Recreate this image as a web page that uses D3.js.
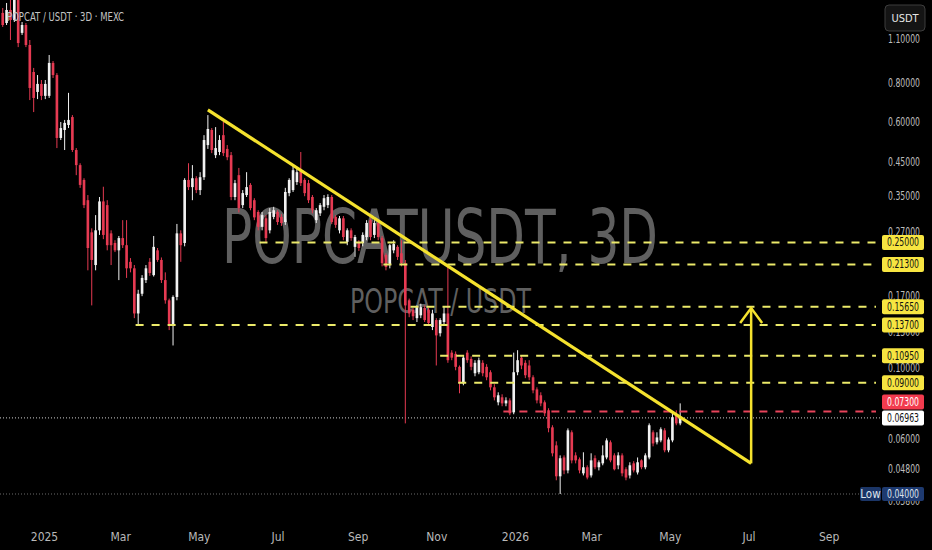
<!DOCTYPE html>
<html>
<head>
<meta charset="utf-8">
<script src="https://cdn.jsdelivr.net/npm/d3@7"></script>
<style>
  body { margin: 0; background: #000; overflow: hidden; }
  svg { display: block; }
</style>
</head>
<body>
<svg id="chart"></svg>
<script>
// POPCAT / USDT, 3 day candles (MEXC), log price scale

// first candle, then one candle every 3 days
const startDate = "2024-11-30";

const opens = [
  1.330, 1.236, 1.359, 1.263, 1.461, 1.150, 1.218, 1.053, 0.865, 0.748,
  0.793, 0.727, 0.727, 0.924, 0.846, 0.535, 0.567, 0.588, 0.623, 0.490,
  0.439, 0.394, 0.340, 0.269, 0.212, 0.273, 0.337, 0.328, 0.267, 0.249,
  0.236, 0.258, 0.245, 0.217, 0.207, 0.149, 0.172, 0.190, 0.217, 0.197,
  0.236, 0.220, 0.190, 0.164, 0.137, 0.168, 0.267, 0.249, 0.394, 0.374,
  0.399, 0.366, 0.402, 0.508, 0.567, 0.472, 0.483, 0.546, 0.494, 0.472,
  0.348, 0.408, 0.328, 0.353, 0.380, 0.340, 0.312, 0.280, 0.298, 0.273,
  0.301, 0.312, 0.301, 0.290, 0.358, 0.366, 0.388, 0.423, 0.394, 0.385,
  0.348, 0.294, 0.309, 0.324, 0.328, 0.348, 0.301, 0.273, 0.298, 0.251,
  0.273, 0.242, 0.251, 0.249, 0.260, 0.294, 0.264, 0.288, 0.258, 0.228,
  0.212, 0.236, 0.242, 0.231, 0.215, 0.164, 0.153, 0.144, 0.147, 0.155,
  0.153, 0.135, 0.142, 0.129, 0.140, 0.149, 0.112, 0.111, 0.101, 0.0896,
  0.112, 0.107, 0.0964, 0.0971, 0.104, 0.101, 0.0971, 0.0870, 0.0780, 0.0809,
  0.0774, 0.0791, 0.0725, 0.0971, 0.108, 0.104, 0.102, 0.0936, 0.0857, 0.0821,
  0.0780, 0.0736, 0.0650, 0.0570, 0.0455, 0.0522, 0.0475, 0.0627, 0.0530, 0.0515,
  0.0465, 0.0486, 0.0458, 0.0519, 0.0486, 0.0500, 0.0522, 0.0583, 0.0530, 0.0493,
  0.0530, 0.0479, 0.0458, 0.0500, 0.0468, 0.0511, 0.0486, 0.0522, 0.0627, 0.0583,
  0.0591, 0.0636, 0.0550, 0.0591, 0.0710, 0.0669
];

const highs = [
  1.379, 1.430, 1.516, 1.572, 1.516, 1.245, 1.236, 1.092, 0.891, 0.846,
  0.816, 0.816, 0.979, 0.937, 0.858, 0.601, 0.610, 0.743, 0.632, 0.497,
  0.445, 0.399, 0.353, 0.277, 0.305, 0.348, 0.375, 0.340, 0.273, 0.254,
  0.262, 0.294, 0.294, 0.223, 0.212, 0.177, 0.197, 0.212, 0.223, 0.262,
  0.240, 0.224, 0.201, 0.166, 0.170, 0.286, 0.273, 0.399, 0.445, 0.439,
  0.405, 0.417, 0.546, 0.632, 0.575, 0.579, 0.546, 0.601, 0.508, 0.483,
  0.394, 0.430, 0.366, 0.417, 0.385, 0.345, 0.316, 0.312, 0.305, 0.321,
  0.324, 0.316, 0.307, 0.372, 0.399, 0.436, 0.430, 0.483, 0.399, 0.394,
  0.353, 0.321, 0.333, 0.353, 0.355, 0.353, 0.305, 0.303, 0.303, 0.277,
  0.277, 0.264, 0.254, 0.269, 0.294, 0.298, 0.294, 0.292, 0.262, 0.231,
  0.247, 0.254, 0.245, 0.254, 0.220, 0.166, 0.155, 0.158, 0.160, 0.158,
  0.155, 0.153, 0.144, 0.144, 0.157, 0.209, 0.114, 0.113, 0.102, 0.110,
  0.114, 0.109, 0.106, 0.108, 0.106, 0.103, 0.0985, 0.0890, 0.0839, 0.0827,
  0.0809, 0.0803, 0.112, 0.114, 0.110, 0.106, 0.106, 0.0950, 0.0870, 0.0839,
  0.0791, 0.0747, 0.0660, 0.0587, 0.0530, 0.0530, 0.0645, 0.0636, 0.0542, 0.0522,
  0.0542, 0.0493, 0.0538, 0.0530, 0.0511, 0.0570, 0.0600, 0.0591, 0.0538, 0.0542,
  0.0538, 0.0486, 0.0504, 0.0508, 0.0522, 0.0515, 0.0538, 0.0669, 0.0636, 0.0627,
  0.0650, 0.0646, 0.0604, 0.0725, 0.0736, 0.0774
];

const lows = [
  1.201, 1.218, 1.092, 1.245, 1.037, 1.133, 1.037, 0.705, 0.646, 0.710,
  0.705, 0.710, 0.716, 0.828, 0.497, 0.527, 0.490, 0.575, 0.483, 0.408,
  0.372, 0.321, 0.204, 0.158, 0.204, 0.264, 0.256, 0.236, 0.212, 0.233,
  0.190, 0.240, 0.193, 0.201, 0.144, 0.137, 0.169, 0.186, 0.196, 0.195,
  0.217, 0.186, 0.160, 0.132, 0.118, 0.164, 0.217, 0.243, 0.366, 0.340,
  0.358, 0.353, 0.394, 0.494, 0.479, 0.462, 0.472, 0.469, 0.455, 0.340,
  0.340, 0.311, 0.321, 0.348, 0.316, 0.294, 0.273, 0.273, 0.251, 0.267,
  0.296, 0.284, 0.282, 0.284, 0.350, 0.361, 0.380, 0.377, 0.350, 0.333,
  0.309, 0.288, 0.303, 0.316, 0.321, 0.286, 0.278, 0.267, 0.254, 0.245,
  0.253, 0.225, 0.235, 0.243, 0.254, 0.254, 0.258, 0.254, 0.210, 0.204,
  0.207, 0.231, 0.220, 0.210, 0.0669, 0.145, 0.142, 0.140, 0.144, 0.140,
  0.136, 0.132, 0.102, 0.126, 0.137, 0.104, 0.106, 0.0985, 0.0833, 0.0883,
  0.104, 0.0985, 0.0943, 0.0957, 0.0943, 0.0916, 0.0851, 0.0791, 0.0763, 0.0758,
  0.0758, 0.0710, 0.0715, 0.0950, 0.0993, 0.0930, 0.0916, 0.0833, 0.0774, 0.0758,
  0.0705, 0.0627, 0.0526, 0.0442, 0.0400, 0.0462, 0.0465, 0.0500, 0.0500, 0.0465,
  0.0458, 0.0445, 0.0451, 0.0479, 0.0475, 0.0493, 0.0515, 0.0504, 0.0475, 0.0479,
  0.0455, 0.0442, 0.0448, 0.0468, 0.0461, 0.0479, 0.0479, 0.0515, 0.0566, 0.0574,
  0.0583, 0.0542, 0.0542, 0.0583, 0.0660, 0.0660
];

const closes = [
  1.218, 1.359, 1.263, 1.482, 1.068, 1.218, 1.053, 0.770, 0.716, 0.793,
  0.727, 0.793, 0.924, 0.846, 0.535, 0.575, 0.597, 0.610, 0.490, 0.439,
  0.380, 0.328, 0.240, 0.220, 0.273, 0.337, 0.264, 0.245, 0.245, 0.236,
  0.258, 0.245, 0.207, 0.207, 0.149, 0.172, 0.193, 0.207, 0.200, 0.242,
  0.220, 0.190, 0.164, 0.137, 0.168, 0.267, 0.245, 0.394, 0.374, 0.399,
  0.366, 0.402, 0.527, 0.571, 0.490, 0.497, 0.527, 0.479, 0.465, 0.348,
  0.385, 0.321, 0.358, 0.374, 0.321, 0.300, 0.280, 0.305, 0.258, 0.312,
  0.316, 0.290, 0.288, 0.361, 0.394, 0.423, 0.417, 0.385, 0.358, 0.340,
  0.316, 0.316, 0.328, 0.345, 0.348, 0.290, 0.284, 0.298, 0.260, 0.273,
  0.258, 0.260, 0.240, 0.264, 0.288, 0.260, 0.288, 0.260, 0.215, 0.209,
  0.245, 0.247, 0.225, 0.215, 0.158, 0.149, 0.146, 0.156, 0.156, 0.142,
  0.139, 0.149, 0.127, 0.142, 0.149, 0.106, 0.108, 0.101, 0.0896, 0.108,
  0.106, 0.101, 0.104, 0.106, 0.0964, 0.0936, 0.0870, 0.0809, 0.0821, 0.0774,
  0.0791, 0.0720, 0.0971, 0.106, 0.102, 0.0950, 0.0936, 0.0851, 0.0791, 0.0774,
  0.0720, 0.0646, 0.0538, 0.0455, 0.0519, 0.0475, 0.0636, 0.0511, 0.0511, 0.0475,
  0.0486, 0.0451, 0.0511, 0.0486, 0.0504, 0.0530, 0.0591, 0.0511, 0.0479, 0.0530,
  0.0465, 0.0451, 0.0493, 0.0475, 0.0504, 0.0486, 0.0530, 0.0660, 0.0578, 0.0604,
  0.0641, 0.0550, 0.0595, 0.0700, 0.0669, 0.06963
];

// price axis ticks (log scale)
const priceTicks = [1.1, 0.8, 0.6, 0.45, 0.35, 0.27, 0.21, 0.17, 0.13, 0.10, 0.078, 0.06, 0.048, 0.038];

// time axis ticks
const timeTicks = ["2025-01-01", "2025-03-01", "2025-05-01", "2025-07-01", "2025-09-01", "2025-11-01",
                   "2026-01-01", "2026-03-01", "2026-05-01", "2026-07-01", "2026-09-01"];
const timeTickLabels = ["2025", "Mar", "May", "Jul", "Sep", "Nov", "2026", "Mar", "May", "Jul", "Sep"];

// horizontal levels drawn on the chart
const levelPrices = [0.25, 0.213, 0.1565, 0.137, 0.1095, 0.09];
const levelStarts = ["2025-06-17", "2025-09-21", "2025-10-12", "2025-03-13", "2025-11-04", "2025-11-18"];
const resistancePrice = 0.073;
const resistanceStart = "2025-12-23";
const lastPrice = 0.06963;
const lowPrice = 0.04;

// descending trendline and target arrow
const trendDates = ["2025-05-08", "2026-07-03"];
const trendPrices = [0.656, 0.050];
const arrowTarget = 0.155;

const width = 932, height = 550;
const plotRight = 880, plotBottom = 518;
const parseDate = d3.utcParse("%Y-%m-%d");
const start = parseDate(startDate);

const candles = opens.map((o, i) => ({
    date: d3.utcDay.offset(start, 3 * i),
    open: o, high: highs[i], low: lows[i], close: closes[i]
}));

const svg = d3.select("#chart")
    .attr("width", width)
    .attr("height", height)
    .style("background", "#000");

// x: one year spans 2025 -> 2026
const x = d3.scaleUtc()
    .domain([parseDate("2025-01-01"), parseDate("2026-01-01")])
    .range([44, 515]);

const y = d3.scaleLog()
    .domain([1.1, 0.04])
    .range([39, 494]);

const fontFamily = "'Liberation Sans Narrow', 'DejaVu Sans Condensed', Roboto, sans-serif";
const candleStep = x(d3.utcDay.offset(start, 3)) - x(start);
const bodyW = candleStep * 0.68;

svg.append("defs").append("clipPath").attr("id", "plot")
    .append("rect").attr("x", 0).attr("y", 0).attr("width", plotRight).attr("height", plotBottom);

const plot = svg.append("g").attr("clip-path", "url(#plot)");

// watermark
plot.append("text")
    .attr("x", 222).attr("y", 263)
    .attr("textLength", 436).attr("lengthAdjust", "spacingAndGlyphs")
    .style("font-family", fontFamily)
    .style("font-size", "74px")
    .style("fill", "#5f5f5f")
    .text("POPCATUSDT, 3D");

plot.append("text")
    .attr("x", 350).attr("y", 313)
    .attr("textLength", 181).attr("lengthAdjust", "spacingAndGlyphs")
    .style("font-family", fontFamily)
    .style("font-size", "34px")
    .style("fill", "#5f5f5f")
    .text("POPCAT / USDT");

// dotted lines: last price and low
plot.append("line")
    .attr("x1", 0).attr("x2", plotRight)
    .attr("y1", y(lastPrice)).attr("y2", y(lastPrice))
    .attr("stroke", "#cfcfcf").attr("stroke-width", 1)
    .attr("stroke-dasharray", "1,2");

plot.append("line")
    .attr("x1", 0).attr("x2", 860)
    .attr("y1", y(lowPrice)).attr("y2", y(lowPrice))
    .attr("stroke", "#6a6a6a").attr("stroke-width", 1)
    .attr("stroke-dasharray", "1,2");

// candles
const candleG = plot.append("g");
const colorOf = d => d.close >= d.open ? "#f2f2f2" : "#e63a52";

candleG.selectAll(".wick")
    .data(candles)
    .join("line")
    .attr("x1", d => x(d.date)).attr("x2", d => x(d.date))
    .attr("y1", d => y(d.high)).attr("y2", d => y(d.low))
    .attr("stroke", colorOf)
    .attr("stroke-width", 1);

candleG.selectAll(".body")
    .data(candles)
    .join("rect")
    .attr("x", d => x(d.date) - bodyW / 2)
    .attr("width", bodyW)
    .attr("y", d => y(Math.max(d.open, d.close)))
    .attr("height", d => Math.max(1, Math.abs(y(d.open) - y(d.close))))
    .attr("fill", colorOf);

// dashed levels
plot.selectAll(".level")
    .data(levelPrices)
    .join("line")
    .attr("x1", (d, i) => x(parseDate(levelStarts[i])))
    .attr("x2", plotRight - 4)
    .attr("y1", d => y(d)).attr("y2", d => y(d))
    .attr("stroke", "#ecea6a")
    .attr("stroke-width", 2)
    .attr("stroke-dasharray", "8,8");

plot.append("line")
    .attr("x1", x(parseDate(resistanceStart)))
    .attr("x2", plotRight - 4)
    .attr("y1", y(resistancePrice)).attr("y2", y(resistancePrice))
    .attr("stroke", "#e8435a")
    .attr("stroke-width", 2)
    .attr("stroke-dasharray", "8,8");

// trendline
const trendPts = trendDates.map((d, i) => [x(parseDate(d)), y(trendPrices[i])]);
plot.append("path")
    .attr("d", d3.line()(trendPts))
    .attr("stroke", "#f5e22e")
    .attr("stroke-width", 3.2)
    .attr("fill", "none");

// target arrow
const ax = trendPts[1][0], ayTop = y(arrowTarget);
plot.append("line")
    .attr("x1", ax).attr("x2", ax)
    .attr("y1", trendPts[1][1]).attr("y2", ayTop)
    .attr("stroke", "#f5e22e").attr("stroke-width", 2.5);
plot.append("path")
    .attr("d", d3.line()([[ax - 11, ayTop + 15], [ax, ayTop], [ax + 11, ayTop + 15]]))
    .attr("stroke", "#f5e22e").attr("stroke-width", 2.5)
    .attr("fill", "none");

// title
svg.append("text")
    .attr("x", 7).attr("y", 21)
    .attr("textLength", 117).attr("lengthAdjust", "spacingAndGlyphs")
    .style("font-family", fontFamily)
    .style("font-size", "13px")
    .style("fill", "#c4c4c4")
    .text("POPCAT / USDT · 3D · MEXC");

// time axis
const xAxis = svg.append("g")
    .attr("transform", "translate(0,532)")
    .call(d3.axisBottom(x).tickValues(timeTicks.map(parseDate))
        .tickFormat((d, i) => timeTickLabels[i])
        .tickSize(0).tickPadding(0));
xAxis.select(".domain").remove();
xAxis.selectAll("text")
    .style("font-family", fontFamily)
    .style("font-size", "12px")
    .style("fill", "#b9b9b9");

// price axis
const yAxis = svg.append("g")
    .attr("transform", "translate(904,0)")
    .call(d3.axisRight(y).tickValues(priceTicks)
        .tickFormat(d3.format(".5f"))
        .tickSize(0).tickPadding(0));
yAxis.select(".domain").remove();
yAxis.selectAll("text")
    .attr("text-anchor", "middle")
    .attr("textLength", 32).attr("lengthAdjust", "spacingAndGlyphs")
    .style("font-family", fontFamily)
    .style("font-size", "11.5px")
    .style("fill", "#bdbdbd");

// price badges on the axis, pushed apart so they don't overlap
const badges = levelPrices.map(p => ({price: p, fill: "#f7e541", color: "#111"}));
badges.push({price: resistancePrice, fill: "#f23b4e", color: "#fff"});
badges.push({price: lastPrice, fill: "#ffffff", color: "#111"});
badges.forEach(b => b.cy = y(b.price));
badges.sort((a, b) => b.cy - a.cy);
for (let i = 1; i < badges.length; i++) {
    if (badges[i - 1].cy - badges[i].cy < 16) badges[i].cy = badges[i - 1].cy - 16;
}

const badgeG = svg.append("g").selectAll("g")
    .data(badges)
    .join("g")
    .attr("transform", d => `translate(882,${d.cy})`);
badgeG.append("rect")
    .attr("x", 0).attr("y", -7.5)
    .attr("width", 42).attr("height", 15)
    .attr("rx", 2)
    .attr("fill", d => d.fill);
badgeG.append("text")
    .attr("x", 21).attr("y", 4)
    .attr("text-anchor", "middle")
    .attr("textLength", 32).attr("lengthAdjust", "spacingAndGlyphs")
    .style("font-family", fontFamily)
    .style("font-size", "11.5px")
    .style("fill", d => d.color)
    .text(d => d3.format(".5f")(d.price));

// low badge
const lowG = svg.append("g").attr("transform", `translate(860,${y(lowPrice)})`);
lowG.append("rect")
    .attr("x", 0).attr("y", -7).attr("width", 21).attr("height", 14)
    .attr("rx", 2).attr("fill", "#1b3566");
lowG.append("rect")
    .attr("x", 22).attr("y", -7).attr("width", 42).attr("height", 14)
    .attr("rx", 2).attr("fill", "#1e3a70");
lowG.append("text")
    .attr("x", 10.5).attr("y", 4).attr("text-anchor", "middle")
    .style("font-family", fontFamily).style("font-size", "11.5px")
    .style("fill", "#dfe4ee")
    .text("Low");
lowG.append("text")
    .attr("x", 43).attr("y", 4).attr("text-anchor", "middle")
    .attr("textLength", 32).attr("lengthAdjust", "spacingAndGlyphs")
    .style("font-family", fontFamily).style("font-size", "11.5px")
    .style("fill", "#dfe4ee")
    .text(d3.format(".5f")(lowPrice));

// currency button
svg.append("rect")
    .attr("x", 885).attr("y", 5).attr("width", 40).attr("height", 26)
    .attr("rx", 4)
    .attr("fill", "#141414").attr("stroke", "#3d3d3d");
svg.append("text")
    .attr("x", 905).attr("y", 22).attr("text-anchor", "middle")
    .style("font-family", fontFamily).style("font-size", "11px")
    .style("fill", "#e6e6e6")
    .text("USDT");
</script>
</body>
</html>
